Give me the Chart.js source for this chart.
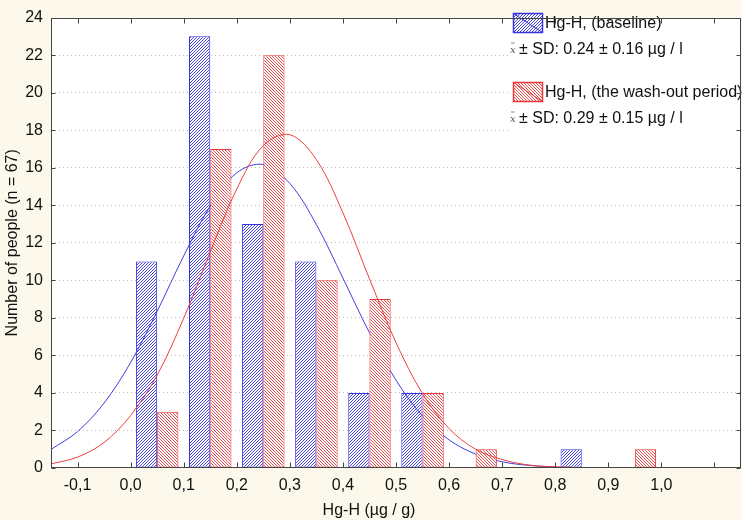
<!DOCTYPE html>
<html>
<head>
<meta charset="utf-8">
<script src="https://cdn.jsdelivr.net/npm/chart.js@4.4.1/dist/chart.umd.min.js"></script>
<style>
html,body{margin:0;padding:0;background:#FCF8EC;}
#wrap{width:742px;height:520px;position:relative;}
</style>
</head>
<body>
<div id="wrap"><canvas id="c"></canvas></div>
<script>
// ---- data ----
const binMidpoints = [0.05, 0.15, 0.25, 0.35, 0.45, 0.55, 0.65, 0.75, 0.85, 0.95];
const baselineCounts = [11, 23, 13, 11, 4, 4, 0, 0, 1, 0];
const washoutCounts  = [3, 17, 22, 10, 9, 4, 1, 0, 0, 1];

const curveX = [-0.15, -0.10, -0.05, 0.00, 0.05, 0.10, 0.15, 0.20, 0.25, 0.30, 0.35, 0.40, 0.45, 0.50, 0.55, 0.60, 0.65, 0.70, 0.75, 0.80, 0.83];
const baselineFit = [0.99, 1.94, 3.46, 5.62, 8.35, 11.30, 13.96, 15.73, 16.17, 15.16, 12.97, 10.12, 7.21, 4.68, 2.77, 1.50, 0.74, 0.33, 0.14, 0.05, 0.03];
const washoutFit  = [0.22, 0.58, 1.36, 2.80, 4.95, 7.98, 11.51, 14.87, 17.18, 17.76, 16.43, 13.60, 10.08, 6.68, 3.96, 2.10, 1.00, 0.45, 0.16, 0.06, 0.04];

const xTickValues = [-0.1, 0.0, 0.1, 0.2, 0.3, 0.4, 0.5, 0.6, 0.7, 0.8, 0.9, 1.0, 1.1];
const xTickLabels = ['-0,1', '0,0', '0,1', '0,2', '0,3', '0,4', '0,5', '0,6', '0,7', '0,8', '0,9', '1,0', ''];

const seriesNames = ['Hg-H, (baseline)', 'Hg-H, (the wash-out period)'];
const seriesStats = ['\u00B1 SD: 0.24 \u00B1 0.16 \u00B5g / l', '\u00B1 SD: 0.29 \u00B1 0.15 \u00B5g / l'];
const xTitle = 'Hg-H (\u00B5g / g)';
const yTitle = 'Number of people (n = 67)';

// ---- styles ----
const BLUE = '#3434E0';
const RED = '#E83838';
const FONT = '"Liberation Sans", Arial, sans-serif';

const canvas = document.getElementById('c');
const ctx0 = canvas.getContext('2d');

function hatch(color, dir) {
  const s = 3;
  const c = document.createElement('canvas');
  c.width = s; c.height = s;
  const g = c.getContext('2d');
  g.fillStyle = '#ffffff';
  g.fillRect(0, 0, s, s);
  g.fillStyle = color;
  for (let y = 0; y < s; y++) {
    const x = dir > 0 ? (s - 1 - y) : y;
    g.fillRect(x, y, 1, 1);
  }
  return ctx0.createPattern(c, 'repeat');
}
const bluePattern = hatch('#4646e8', 1);
const redPattern = hatch('#ea4e4e', -1);

// draw order: blue bars, blue curve, red bars, red curve
const layerPlugin = {
  id: 'layer',
  beforeDatasetDraw(chart, args) {
    if (args.index === 0 || args.index === 2) return false;
    if (args.index === 1) {
      const a = chart.chartArea, ctx = chart.ctx;
      ctx.save();
      ctx.beginPath();
      ctx.rect(a.left, a.top, a.right - a.left, a.bottom - a.top);
      ctx.clip();
      chart.getDatasetMeta(0).controller.draw();
      chart.getDatasetMeta(2).controller.draw();
      ctx.restore();
    }
  }
};

const framePlugin = {
  id: 'frame',
  beforeDraw(chart) {
    const a = chart.chartArea, ctx = chart.ctx;
    ctx.save();
    ctx.fillStyle = '#ffffff';
    ctx.fillRect(a.left, a.top, a.right - a.left, a.bottom - a.top);
    ctx.restore();
  },
  afterDraw(chart) {
    const a = chart.chartArea, ctx = chart.ctx;
    const xs = chart.scales.x, ys = chart.scales.y;
    ctx.save();
    // legend
    ctx.fillStyle = '#ffffff';
    ctx.fillRect(508, a.top + 1, a.right - 509, 122);
    const items = [
      {pat: bluePattern, col: BLUE, y: 13.5},
      {pat: redPattern, col: RED, y: 82.5}
    ];
    items.forEach((it, i) => {
      ctx.fillStyle = it.pat;
      ctx.fillRect(513.5, it.y, 29, 19);
      ctx.strokeStyle = it.col;
      ctx.lineWidth = 1.5;
      ctx.strokeRect(513.5, it.y, 29, 19);
      ctx.beginPath();
      ctx.lineWidth = 1;
      ctx.moveTo(513.5, it.y); ctx.lineTo(542.5, it.y + 19);
      ctx.stroke();
      ctx.fillStyle = '#111';
      ctx.font = '16px ' + FONT;
      ctx.textBaseline = 'middle';
      ctx.textAlign = 'left';
      ctx.fillText(seriesNames[i], 545, it.y + 10);
      ctx.fillText(seriesStats[i], 519, it.y + 36);
      ctx.fillStyle = '#555';
      ctx.font = 'italic 10px "DejaVu Serif", serif';
      ctx.fillText('x', 510, it.y + 37);
      ctx.beginPath();
      ctx.strokeStyle = '#666';
      ctx.lineWidth = 0.8;
      ctx.moveTo(511, it.y + 29.5); ctx.lineTo(514.5, it.y + 29.5);
      ctx.stroke();
    });
    // frame
    ctx.strokeStyle = '#444';
    ctx.lineWidth = 1;
    const L = Math.round(a.left) + 0.5, R = Math.round(a.right) - 0.5;
    const T = Math.round(a.top) + 0.5, B = Math.round(a.bottom) - 0.5;
    ctx.strokeRect(L, T, R - L, B - T);
    ctx.beginPath();
    xTickValues.forEach(v => {
      const px = Math.round(xs.getPixelForValue(v)) + 0.5;
      ctx.moveTo(px, B); ctx.lineTo(px, B - 5);
      ctx.moveTo(px, T); ctx.lineTo(px, T + 5);
    });
    ys.ticks.forEach(t => {
      const py = Math.round(ys.getPixelForValue(t.value)) + 0.5;
      ctx.moveTo(L, py); ctx.lineTo(L + 4, py);
      ctx.moveTo(R, py); ctx.lineTo(R - 4, py);
    });
    ctx.stroke();
    // x title
    ctx.fillStyle = '#111';
    ctx.font = '16px ' + FONT;
    ctx.textAlign = 'center';
    ctx.textBaseline = 'middle';
    ctx.fillText(xTitle, 369, 511);
    ctx.restore();
  }
};

new Chart(canvas, {
  type: 'bar',
  data: {
    datasets: [
      {
        label: seriesNames[0],
        data: binMidpoints.map((x, i) => ({x: x, y: baselineCounts[i]})),
        backgroundColor: bluePattern,
        borderColor: BLUE,
        borderWidth: 1,
        borderSkipped: false,
        categoryPercentage: 0.8,
        barPercentage: 1.0,
        order: 1
      },
      {
        label: seriesNames[1],
        data: binMidpoints.map((x, i) => ({x: x, y: washoutCounts[i]})),
        backgroundColor: redPattern,
        borderColor: RED,
        borderWidth: 1,
        borderSkipped: false,
        categoryPercentage: 0.8,
        barPercentage: 1.0,
        order: 2
      },
      {
        type: 'line',
        label: 'baseline fit',
        data: curveX.map((x, i) => ({x: x, y: baselineFit[i]})),
        borderColor: '#4040E0',
        borderWidth: 1,
        pointRadius: 0,
        tension: 0.35,
        fill: false,
        order: 3
      },
      {
        type: 'line',
        label: 'wash-out fit',
        data: curveX.map((x, i) => ({x: x, y: washoutFit[i]})),
        borderColor: '#EC4040',
        borderWidth: 1,
        pointRadius: 0,
        tension: 0.35,
        fill: false,
        order: 0
      }
    ]
  },
  options: {
    responsive: true,
    maintainAspectRatio: false,
    animation: false,
    devicePixelRatio: 1,
    layout: {padding: {left: 0, right: 1, top: 6, bottom: 0}},
    plugins: {legend: {display: false}, tooltip: {enabled: false}},
    scales: {
      x: {
        type: 'linear',
        min: -0.15,
        max: 1.15,
        offset: false,
        grid: {display: false, drawTicks: false, offset: false},
        border: {display: false},
        afterBuildTicks: s => { s.ticks = xTickValues.map(v => ({value: v})); },
        afterFit: s => { s.height = 52; },
        ticks: {
          autoSkip: false,
          maxRotation: 0,
          padding: 8,
          color: '#111',
          font: {family: FONT, size: 16},
          callback: (v, i) => xTickLabels[i]
        }
      },
      y: {
        min: 0,
        max: 24,
        afterFit: s => { s.width = 51; },
        grid: {
          drawTicks: false,
          color: c => (c.tick && (c.tick.value === 0 || c.tick.value === 24)) ? 'rgba(0,0,0,0)' : '#bdbdbd',
          lineWidth: 1
        },
        border: {display: false, dash: [1, 3]},
        ticks: {
          stepSize: 2,
          padding: 8,
          color: '#111',
          font: {family: FONT, size: 16}
        },
        title: {
          display: true,
          text: yTitle,
          color: '#111',
          font: {family: FONT, size: 16},
          padding: {top: 3, bottom: 0}
        }
      }
    }
  },
  plugins: [layerPlugin, framePlugin]
});
</script>
</body>
</html>
